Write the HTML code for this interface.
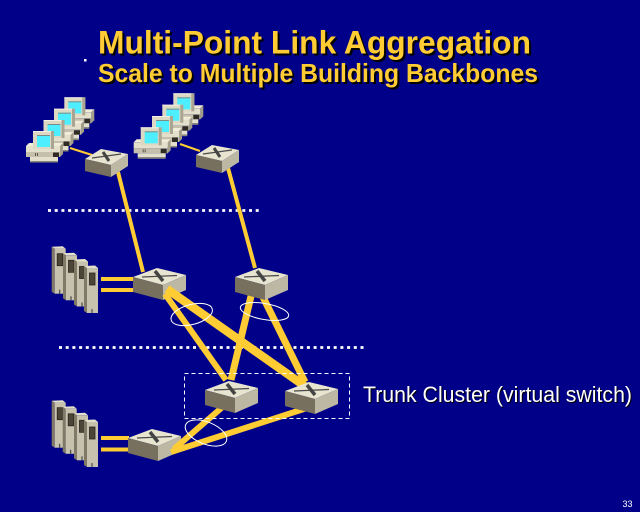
<!DOCTYPE html>
<html>
<head>
<meta charset="utf-8">
<style>
  html,body{margin:0;padding:0;background:#000088;}
  svg{display:block;}
</style>
</head>
<body>
<svg width="640" height="512" viewBox="0 0 640 512" xmlns="http://www.w3.org/2000/svg">
  <defs>
    <g id="pc">
      <polygon points="-4,12 30,12 27,15 -7,15" fill="#efecd9"/>
      <polygon points="27,15 30,12 30,23 27,26" fill="#a29e8a"/>
      <rect x="-7" y="15" width="34" height="6" fill="#e2dfcb"/>
      <rect x="-7" y="21" width="34" height="5" fill="#c4c0ab"/>
      <rect x="20" y="21.5" width="6" height="4.5" fill="#2e2b25"/>
      <rect x="2" y="22" width="1" height="3" fill="#5a574c"/>
      <rect x="4" y="22" width="1" height="3" fill="#5a574c"/>
      <rect x="-3" y="26" width="28" height="4" fill="#e2dfcb"/>
      <rect x="-3" y="30" width="28" height="1.5" fill="#8c8876"/>
      <rect x="0" y="0" width="21" height="18" fill="#dcd8c4"/>
      <rect x="0" y="0" width="18" height="1" fill="#f2f0e2"/>
      <rect x="18" y="0" width="3" height="18" fill="#a9a592"/>
      <rect x="4" y="4" width="13" height="12" fill="#4deeff"/>
      <rect x="4" y="4" width="13" height="1" fill="#7f8c86"/>
    </g>
    <g id="tw">
      <polygon points="0,0 11,-0.5 14,2 3,2" fill="#e2dfcb"/>
      <polygon points="0,0 3,2 3,47 0,45" fill="#7f7966"/>
      <rect x="3" y="2" width="11" height="45" fill="#c6c2ad"/>
      <rect x="5.5" y="7" width="5.5" height="12" fill="#4b4538" stroke="#2a2620" stroke-width="0.8"/>
      <rect x="7.5" y="43" width="1" height="4" fill="#333"/>
    </g>
    <g id="sw">
      <polygon points="0,0 24,-9 53,-2 30,8" fill="#e7e4d0"/>
      <polygon points="0,0 30,8 30,23 0,15" fill="#78705e"/>
      <polygon points="30,8 53,-2 53,13 30,23" fill="#bcb8a4"/>
      <line x1="9" y1="0" x2="44" y2="-1.5" stroke="#4a4a4a" stroke-width="1.3"/>
      <line x1="22" y1="-6" x2="30" y2="4" stroke="#444" stroke-width="3.5"/>
    </g>
    <g id="sws">
      <polygon points="0,0 16,-10 43,-5 26,6" fill="#e7e4d0"/>
      <polygon points="0,0 26,6 26,18 0,12" fill="#78705e"/>
      <polygon points="26,6 43,-5 43,7 26,18" fill="#bcb8a4"/>
      <line x1="7" y1="-1" x2="36" y2="-5" stroke="#4a4a4a" stroke-width="1.2"/>
      <line x1="18" y1="-7" x2="24" y2="2" stroke="#444" stroke-width="3"/>
    </g>
  </defs>

  <rect x="0" y="0" width="640" height="512" fill="#000088"/>

  <!-- title -->
  <g font-family="'Liberation Sans', Arial, sans-serif" font-weight="bold">
    <text x="100" y="55.5" font-size="32" fill="#000000" textLength="433" lengthAdjust="spacingAndGlyphs">Multi-Point Link Aggregation</text>
    <text x="98" y="53.5" font-size="32" fill="#ffcc33" textLength="433" lengthAdjust="spacingAndGlyphs">Multi-Point Link Aggregation</text>
    <text x="100" y="84" font-size="26" fill="#000000" textLength="440" lengthAdjust="spacingAndGlyphs">Scale to Multiple Building Backbones</text>
    <text x="98" y="82" font-size="26" fill="#ffcc33" textLength="440" lengthAdjust="spacingAndGlyphs">Scale to Multiple Building Backbones</text>
  </g>
  <rect x="84" y="59" width="2.5" height="2.5" fill="#ffffff"/>

  <!-- dotted separators -->
  <line x1="48" y1="210.5" x2="260" y2="210.5" stroke="#ffffff" stroke-width="2.7" stroke-dasharray="3 3.7"/>
  <line x1="59" y1="347.5" x2="367" y2="347.5" stroke="#ffffff" stroke-width="2.7" stroke-dasharray="3 3.7"/>

  <!-- PC groups -->
  <use href="#pc" transform="translate(64.3,97.3)"/>
  <use href="#pc" transform="translate(54,108.7)"/>
  <use href="#pc" transform="translate(43.5,120)"/>
  <use href="#pc" transform="translate(33,131)"/>

  <use href="#pc" transform="translate(173.3,93.3)"/>
  <use href="#pc" transform="translate(162.3,104.7)"/>
  <use href="#pc" transform="translate(152,116)"/>
  <use href="#pc" transform="translate(140.7,127.3)"/>

  <!-- server towers -->
  <use href="#tw" transform="translate(51.7,246.7)"/>
  <use href="#tw" transform="translate(63,253.3)"/>
  <use href="#tw" transform="translate(74,259.5)"/>
  <use href="#tw" transform="translate(84,266)"/>

  <use href="#tw" transform="translate(51.7,400.7)"/>
  <use href="#tw" transform="translate(62.7,406.8)"/>
  <use href="#tw" transform="translate(74,413.3)"/>
  <use href="#tw" transform="translate(84,420)"/>

  <!-- thin PC links & server links -->
  <g stroke="#ffcc33" fill="none">
    <line x1="70" y1="148" x2="92" y2="155" stroke-width="2.2"/>
    <line x1="180" y1="144" x2="200" y2="151" stroke-width="2.2"/>
    <line x1="101" y1="279" x2="134" y2="279" stroke-width="4"/>
    <line x1="101" y1="290" x2="134" y2="290" stroke-width="4"/>
    <line x1="101" y1="438" x2="129" y2="438" stroke-width="4"/>
    <line x1="101" y1="449.5" x2="129" y2="449.5" stroke-width="4"/>
  </g>

  <!-- switches under links -->
  <use href="#sw" transform="translate(133,277)"/>
  <use href="#sw" transform="translate(128,438)"/>

  <!-- backbone links -->
  <g stroke="#ffcc33" fill="none" stroke-linecap="butt">
    <line x1="118" y1="172" x2="143" y2="272" stroke-width="4"/>
    <line x1="228" y1="168" x2="255" y2="268" stroke-width="4"/>
    <line x1="167" y1="289" x2="306" y2="387" stroke-width="8.5"/>
    <line x1="165" y1="294" x2="226" y2="380" stroke-width="6"/>
    <line x1="252" y1="292" x2="231" y2="380" stroke-width="7"/>
    <line x1="261" y1="293" x2="305" y2="382" stroke-width="7"/>
    <line x1="174" y1="449" x2="226" y2="404" stroke-width="6"/>
    <line x1="171" y1="452" x2="310" y2="407" stroke-width="6"/>
  </g>

  <!-- switches on top -->
  <use href="#sws" transform="translate(85,159)"/>
  <use href="#sws" transform="translate(196,155)"/>
  <use href="#sw" transform="translate(235,277)"/>
  <use href="#sw" transform="translate(205,390)"/>
  <use href="#sw" transform="translate(285,391)"/>

  <!-- aggregation ellipses -->
  <g fill="none" stroke="#ffffff" stroke-width="1">
    <ellipse cx="191.7" cy="314.5" rx="21.3" ry="10" transform="rotate(-15 191.7 314.5)"/>
    <ellipse cx="264.5" cy="311.5" rx="24.5" ry="8" transform="rotate(10 264.5 311.5)"/>
    <ellipse cx="206" cy="433" rx="22" ry="11" transform="rotate(22 206 433)"/>
  </g>

  <!-- trunk cluster box -->
  <rect x="184.5" y="373.5" width="165" height="45" fill="none" stroke="#ffffff" stroke-width="1" stroke-dasharray="4 3"/>

  <g font-family="'Liberation Sans', Arial, sans-serif">
    <text x="364" y="403" font-size="22.5" fill="#000000" textLength="269" lengthAdjust="spacingAndGlyphs">Trunk Cluster (virtual switch)</text>
    <text x="363" y="402" font-size="22.5" fill="#ffffff" textLength="269" lengthAdjust="spacingAndGlyphs">Trunk Cluster (virtual switch)</text>
    <text x="622.5" y="507" font-size="9" fill="#ffffff" textLength="10" lengthAdjust="spacingAndGlyphs">33</text>
  </g>
</svg>
</body>
</html>
